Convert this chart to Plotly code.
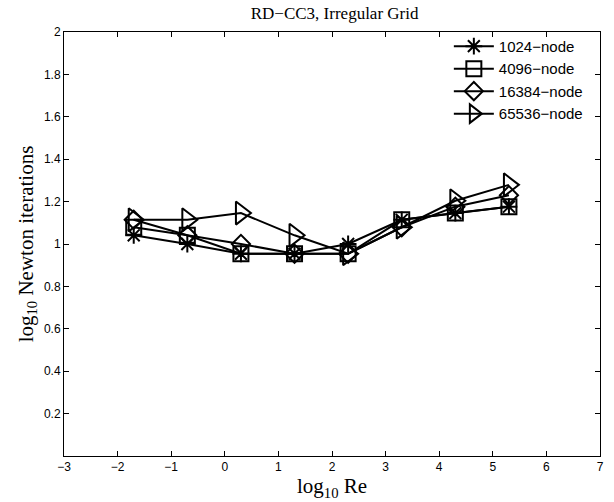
import plotly.graph_objects as go

log_re = [-1.699, -0.699, 0.301, 1.301, 2.301, 3.301, 4.301, 5.301]
series_names = ["1024\u2212node", "4096\u2212node", "16384\u2212node", "65536\u2212node"]
y_1024 = [1.041, 1.000, 0.954, 0.954, 1.000, 1.114, 1.146, 1.176]
y_4096 = [1.079, 1.041, 0.954, 0.954, 0.954, 1.114, 1.146, 1.176]
y_16384 = [1.114, 1.041, 1.000, 0.954, 0.954, 1.079, 1.176, 1.230]
y_65536 = [1.114, 1.114, 1.146, 1.041, 0.954, 1.079, 1.204, 1.279]
x_ticks = [-3, -2, -1, 0, 1, 2, 3, 4, 5, 6, 7]
y_ticks = [0.2, 0.4, 0.6, 0.8, 1.0, 1.2, 1.4, 1.6, 1.8, 2.0]
y_tick_text = ["0.2", "0.4", "0.6", "0.8", "1", "1.2", "1.4", "1.6", "1.8", "2"]

symbols = ["asterisk-open", "square-open", "diamond-open", "triangle-right-open"]
sizes = [14, 15, 14, 20]
all_y = [y_1024, y_4096, y_16384, y_65536]

fig = go.Figure()
for name, ys, sym, sz in zip(series_names, all_y, symbols, sizes):
    fig.add_trace(go.Scatter(
        x=log_re, y=ys, name=name, mode="lines+markers",
        line=dict(color="black", width=2),
        marker=dict(symbol=sym, size=sz, color="black",
                    line=dict(color="black", width=2)),
    ))

axis_common = dict(
    showgrid=False, zeroline=False, showline=True, linecolor="black", linewidth=1,
    mirror="ticks", ticks="inside", ticklen=5, tickcolor="black",
    tickfont=dict(family="Liberation Sans", size=12, color="black"),
)
fig.update_xaxes(range=[-3, 7], tickvals=x_ticks, **axis_common,
                 title=dict(text="log<sub>10</sub> Re", standoff=0,
                            font=dict(family="Liberation Serif", size=21, color="black")))
fig.update_yaxes(range=[0, 2], tickvals=y_ticks, ticktext=y_tick_text, **axis_common,
                 title=dict(text="log<sub>10</sub> Newton iterations", standoff=4,
                            font=dict(family="Liberation Serif", size=21, color="black")))

fig.update_layout(
    width=614, height=502,
    margin=dict(l=64, r=10, t=32, b=46),
    plot_bgcolor="white", paper_bgcolor="white",
    title=dict(text="RD\u2212CC3, Irregular Grid", x=0.545, xanchor="center",
               y=0.975, yanchor="middle",
               font=dict(family="Liberation Serif", size=17, color="black")),
    legend=dict(x=0.718, y=1.005, xanchor="left", yanchor="top",
                bgcolor="rgba(255,255,255,0)", borderwidth=0,
                font=dict(family="Liberation Sans", size=15, color="black"),
                tracegroupgap=0, itemwidth=40),
    showlegend=True,
)

fig.write_html("out.html")
